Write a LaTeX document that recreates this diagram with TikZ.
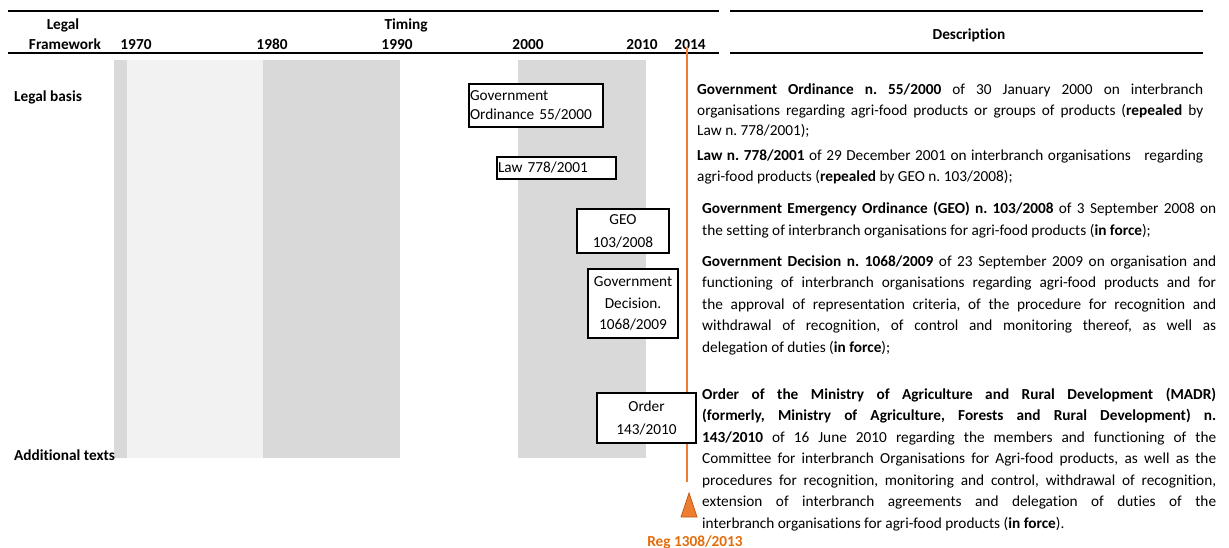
\documentclass[tikz,border=0pt]{standalone}
\usepackage{fontspec}
\setmainfont{Carlito}[Ligatures=NoCommon]
\frenchspacing
\definecolor{dgray}{HTML}{D9D9D9}
\definecolor{lgray}{HTML}{F2F2F2}
\definecolor{orangeL}{HTML}{ED7D31}
\definecolor{orangeD}{HTML}{E46C0A}
\definecolor{orangeB}{HTML}{C55A11}
\newcommand{\jl}[1]{\makebox[\linewidth][s]{#1}}
\newcommand{\bodyfont}{\fontsize{15.3}{21.5}\selectfont}
\tikzset{
  hdr/.style={font=\fontsize{15.3}{20}\selectfont\bfseries, inner sep=0pt, anchor=base},
  lbl/.style={font=\fontsize{15.3}{20}\selectfont\bfseries, inner sep=0pt, anchor=base west},
  lawbox/.style={draw=black, line width=1.6pt, fill=white, inner ysep=0pt},
  desc/.style={inner sep=0pt, anchor=base west},
  rulethin/.style={line width=2.3pt},
  rulethick/.style={line width=2.7pt},
  timeline/.style={orangeL, line width=1.3pt},
}
\begin{document}
\begin{tikzpicture}[x=1pt,y=-1pt]
\useasboundingbox (0,0) rectangle (1229,548);
% period bands
\fill[dgray] (114,60) rectangle (127,458);
\fill[lgray] (127,60) rectangle (263,458);
\fill[dgray] (263,60) rectangle (400,458);
\fill[dgray] (518,60) rectangle (646,458);
% rules
\draw[rulethin] (8,11) -- (719,11);
\draw[rulethin] (730,11) -- (1203,11);
\draw[rulethick] (8,53) -- (719,53);
\draw[rulethick] (730,53) -- (1203,53);
% header
\node[hdr] (hlegal) at (63,30) {Legal};
\node[hdr] (hframe) at (65,50) {Framework};
\node[hdr] (htiming) at (406,30) {Timing};
\node[hdr] (y1970) at (136,50) {1970};
\node[hdr] (y1980) at (272,50) {1980};
\node[hdr] (y1990) at (397,50) {1990};
\node[hdr] (y2000) at (528,50) {2000};
\node[hdr] (y2010) at (642,50) {2010};
\node[hdr] (y2014) at (690,50) {2014};
\node[hdr] (hdesc) at (969,40) {Description};
% row labels
\node[lbl] (legalbasis) at (14,102) {Legal basis};
\node[lbl] (addtexts) at (14,460) {Additional texts};
% timeline 2014
\coordinate (ot) at (687,47);
\coordinate (ob) at (687,482);
\draw[timeline] (ot) -- (ob);
\draw[fill=orangeL, draw=orangeB, line width=0.8pt] (681,517) -- (689,493) -- (697,517) -- cycle;
\node[hdr, text=orangeD] (reg) at (695,546) {Reg 1308/2013};
% law boxes
\node[lawbox, align=left, text width=132pt, inner xsep=1pt, minimum height=43pt,
      font=\fontsize{15.3}{19}\selectfont] (b1) at (536,105.5) {Government\\Ordinance 55/2000};
\node[lawbox, align=left, text width=117pt, inner xsep=1pt, minimum height=22pt,
      font=\fontsize{15.3}{19}\selectfont] (b2) at (556.5,168) {Law 778/2001};
\node[lawbox, align=center, text width=88pt, inner xsep=2pt, minimum height=44pt,
      font=\fontsize{15.3}{23}\selectfont] (b3) at (623,231) {GEO\\103/2008};
\node[lawbox, align=center, text width=86pt, inner xsep=2pt, minimum height=69pt,
      font=\fontsize{15.3}{21.5}\selectfont] (b4) at (633,303.5) {Government\\Decision.\\1068/2009};
\node[lawbox, align=center, text width=95pt, inner xsep=2pt, minimum height=50pt,
      font=\fontsize{15.3}{23}\selectfont] (b5) at (646.5,418) {Order\\143/2010};
% descriptions
\node[desc] (p1) at (697,95) {\parbox[t]{506pt}{\fontsize{15.3}{20.5}\selectfont
\jl{\textbf{Government Ordinance n. 55/2000} of 30 January 2000 on interbranch}\par
\jl{organisations regarding agri-food products or groups of products (\textbf{repealed} by}\par
Law n. 778/2001);}};
\node[desc] (p2) at (697,161) {\parbox[t]{506pt}{\fontsize{15.3}{21}\selectfont
\jl{\textbf{Law n. 778/2001} of 29 December 2001 on interbranch organisations\ \ \ regarding}\par
agri-food products (\textbf{repealed} by GEO n. 103/2008);}};
\node[desc] (p3) at (702,214) {\parbox[t]{514pt}{\bodyfont
\jl{\textbf{Government Emergency Ordinance (GEO) n. 103/2008} of 3 September 2008 on}\par
the setting of interbranch organisations for agri-food products (\textbf{in force});}};
\node[desc] (p4) at (702,266) {\parbox[t]{514pt}{\bodyfont
\jl{\textbf{Government Decision n. 1068/2009} of 23 September 2009 on organisation and}\par
\jl{functioning of interbranch organisations regarding agri-food products and for}\par
\jl{the approval of representation criteria, of the procedure for recognition and}\par
\jl{withdrawal of recognition, of control and monitoring thereof, as well as}\par
delegation of duties (\textbf{in force});}};
\node[desc] (p5) at (702,399) {\parbox[t]{514pt}{\bodyfont
\jl{\textbf{Order of the Ministry of Agriculture and Rural Development (MADR)}}\par
\jl{\textbf{(formerly, Ministry of Agriculture, Forests and Rural Development) n.}}\par
\jl{\textbf{143/2010} of 16 June 2010 regarding the members and functioning of the}\par
\jl{Committee for interbranch Organisations for Agri-food products, as well as the}\par
\jl{procedures for recognition, monitoring and control, withdrawal of recognition,}\par
\jl{extension of interbranch agreements and delegation of duties of the}\par
interbranch organisations for agri-food products (\textbf{in force}).}};
\end{tikzpicture}
\end{document}
